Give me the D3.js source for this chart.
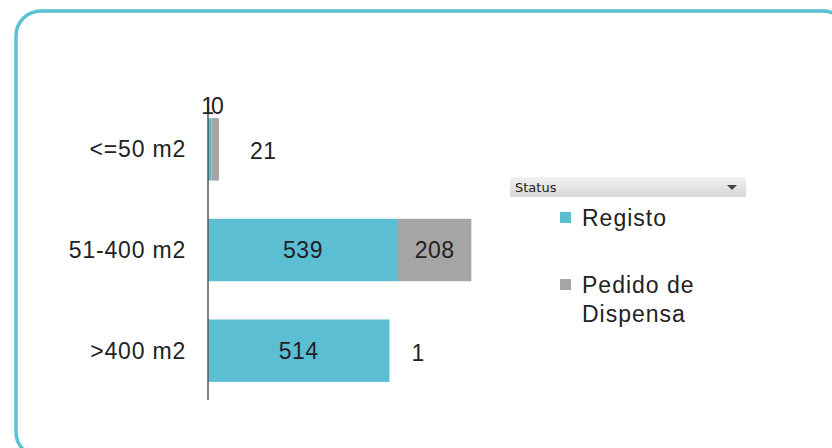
<!DOCTYPE html>
<html>
<head>
<meta charset="utf-8">
<script src="https://cdn.jsdelivr.net/npm/d3@7"></script>
<style>
  body { margin: 0; background: #fff; }
  svg { display: block; font-family: "Liberation Sans", Arial, sans-serif; }
</style>
</head>
<body>
<div id="chart"></div>
<script>
var categories = ["<=50 m2", "51-400 m2", ">400 m2"];
var registo = [10, 539, 514];
var pedido = [21, 208, 1];
var seriesNames = ["Registo", "Pedido de Dispensa"];
var colors = ["#5bbed2", "#a5a5a5"];

var W = 832, H = 448;
var svg = d3.select("#chart").append("svg")
  .attr("width", W).attr("height", H);

// frame
svg.append("rect")
  .attr("x", 16).attr("y", 11)
  .attr("width", 832).attr("height", 446)
  .attr("rx", 25).attr("ry", 25)
  .attr("fill", "none")
  .attr("stroke", "#5bc0d3")
  .attr("stroke-width", 3.5);

var x = d3.scaleLinear().domain([0, 539]).range([208, 398]);
var y = d3.scaleBand().domain(categories).range([100, 400]).paddingInner(0.38).paddingOuter(0.18);

var rows = categories.map(function (c, i) {
  return { cat: c, r: registo[i], p: pedido[i] };
});

var g = svg.append("g");

// registo bars
g.selectAll(".reg").data(rows).enter().append("rect")
  .attr("class", "reg")
  .attr("x", x(0))
  .attr("y", function (d) { return y(d.cat); })
  .attr("width", function (d) { return x(d.r) - x(0); })
  .attr("height", y.bandwidth())
  .attr("fill", colors[0]);

// pedido bars
g.selectAll(".ped").data(rows).enter().append("rect")
  .attr("class", "ped")
  .attr("x", function (d) { return x(d.r); })
  .attr("y", function (d) { return y(d.cat); })
  .attr("width", function (d) { return x(d.r + d.p) - x(d.r); })
  .attr("height", y.bandwidth())
  .attr("fill", colors[1]);

// axis line
svg.append("line")
  .attr("x1", 208).attr("x2", 208)
  .attr("y1", 100).attr("y2", 400)
  .attr("stroke", "#555").attr("stroke-width", 1.5);

// category labels
svg.selectAll(".cat").data(categories).enter().append("text")
  .attr("x", 186)
  .attr("y", function (d) { return y(d) + y.bandwidth() / 2; })
  .attr("dy", "0.35em")
  .attr("text-anchor", "end")
  .attr("font-size", 23)
  .attr("letter-spacing", 0.8)
  .attr("fill", "#222")
  .text(function (d) { return d; });

// value labels
var fs = 23;
function label(xp, yp, anchor, t, ls) {
  svg.append("text").attr("x", xp).attr("y", yp).attr("dy", "0.35em")
    .attr("text-anchor", anchor).attr("font-size", fs).attr("letter-spacing", ls)
    .attr("fill", "#222").text(t);
}
rows.forEach(function (d) {
  var cy = y(d.cat) + y.bandwidth() / 2;
  var wr = x(d.r) - x(0), wp = x(d.r + d.p) - x(d.r);
  if (wr > 40) label(x(0) + wr / 2, cy, "middle", d.r, 0.5);
  else label(x(0) + 3, y(d.cat) - 12, "middle", d.r, -3);
  if (wp > 40) label(x(d.r) + wp / 2, cy, "middle", d.p, 0.5);
  else label(x(d.r + d.p) + (d.p > 9 ? 31 : 22), cy + 2, "start", d.p, 0.5);
});

// legend header
var defs = svg.append("defs");
var grad = defs.append("linearGradient").attr("id", "hdr").attr("x1", 0).attr("x2", 0).attr("y1", 0).attr("y2", 1);
grad.append("stop").attr("offset", "0%").attr("stop-color", "#f2f2f2");
grad.append("stop").attr("offset", "100%").attr("stop-color", "#d6d6d6");
svg.append("rect").attr("x", 510).attr("y", 177).attr("width", 236).attr("height", 20)
  .attr("fill", "url(#hdr)");
svg.append("text").attr("x", 515).attr("y", 192)
  .attr("font-family", "'DejaVu Sans', sans-serif").attr("font-size", 13)
  .attr("fill", "#222").text("Status");
svg.append("path").attr("d", "M727,185 L737,185 L732,190 Z").attr("fill", "#444");

// legend items
var leg = [
  { lines: ["Registo"], y: 218 },
  { lines: ["Pedido de", "Dispensa"], y: 285 }
];
leg.forEach(function (l, i) {
  svg.append("rect").attr("x", 560).attr("y", l.y - 6).attr("width", 11).attr("height", 11)
    .attr("fill", colors[i]);
  l.lines.forEach(function (t, j) {
    svg.append("text").attr("x", 582).attr("y", l.y + j * 29).attr("dy", "0.35em")
      .attr("font-size", 23).attr("letter-spacing", 1).attr("fill", "#222").text(t);
  });
});
</script>
</body>
</html>
